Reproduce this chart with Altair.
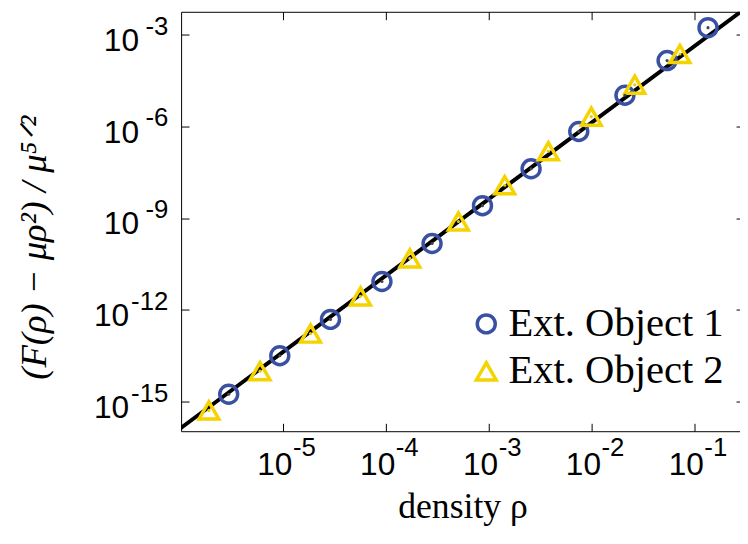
import altair as alt
import pandas as pd

# ---- data ----
series_names = ["Ext. Object 1", "Ext. Object 2"]
series_colors = ["#3a50a2", "#f5d300"]
series_shapes = ["circle", "triangle-up"]
series_sizes = [330, 400]
dot_colors = ["#3c4a40", "#e8c800"]

obj1_x = [2.96e-6, 9.29e-6, 2.89e-5, 9.15e-5, 2.81e-4, 8.69e-4, 2.58e-3, 7.50e-3, 2.11e-2, 5.42e-2, 1.355e-1]
obj1_y = [1.73e-15, 3.15e-14, 4.85e-13, 8.39e-12, 1.47e-10, 2.54e-9, 4.08e-8, 6.78e-7, 1.04e-5, 1.41e-4, 1.68e-3]

obj2_x = [1.90e-6, 5.97e-6, 1.85e-5, 5.66e-5, 1.71e-4, 5.07e-4, 1.43e-3, 3.80e-3, 9.93e-3, 2.63e-2, 7.23e-2]
obj2_y = [5.13e-16, 9.86e-15, 1.67e-13, 2.75e-12, 4.80e-11, 7.71e-10, 1.186e-8, 1.53e-7, 2.07e-6, 2.29e-5, 2.31e-4]

fit_x = [1e-6, 1.0]
fit_y = [1.32e-16, 1.32e-1]

x_ticks = [1e-5, 1e-4, 1e-3, 1e-2, 1e-1]
x_tick_exps = ["-5", "-4", "-3", "-2", "-1"]
y_ticks = [1e-15, 1e-12, 1e-9, 1e-6, 1e-3]
y_tick_exps = ["-15", "-12", "-9", "-6", "-3"]

x_domain = [1.02e-6, 0.303]
y_domain = [1.07e-16, 5.55e-3]

x_title = "density ρ"
y_title = "(F(ρ) − μρ²) / μ⁵ᐟ²"

# ---- tables ----
pts = pd.DataFrame(
    {"x": obj1_x + obj2_x,
     "y": obj1_y + obj2_y,
     "series": [series_names[0]] * len(obj1_x) + [series_names[1]] * len(obj2_x)}
)
fit = pd.DataFrame({"x": fit_x, "y": fit_y})
xt = pd.DataFrame({"v": x_ticks, "e": x_tick_exps})
yt = pd.DataFrame({"v": y_ticks, "e": y_tick_exps})

xs = alt.Scale(type="log", domain=x_domain, nice=False)
ys = alt.Scale(type="log", domain=y_domain, nice=False)

SANS = "Liberation Sans"
SERIF = "Liberation Serif"

bottom_axis = alt.Axis(
    orient="bottom", values=x_ticks, offset=-8, tickSize=8, tickColor="black",
    tickWidth=1, domain=False, grid=False, labelExpr="'10'", labelFont=SANS,
    labelFontSize=32, labelColor="black", labelAlign="right", labelOffset=9,
    labelBaseline="alphabetic", labelPadding=44, labelFlush=False, labelOverlap=False,
    title=x_title, titleFont=SERIF, titleFontSize=36, titleFontWeight="normal",
    titleColor="black", titleX=284.5, titleY=95, titleAlign="center",
    titleBaseline="alphabetic", titleAnchor="middle",
)
left_axis = alt.Axis(
    orient="left", values=y_ticks, offset=-8, tickSize=8, tickColor="black",
    tickWidth=1, domain=False, grid=False, labelExpr="'10'", labelFont=SANS,
    labelFontSize=32, labelColor="black", labelAlign="right", labelOffset=16,
    labelBaseline="alphabetic",
    labelPadding={"condition": {"test": "datum.value < 1e-10", "value": 53}, "value": 43},
    labelFlush=False, labelOverlap=False,
    title=y_title, titleFont=SERIF, titleFontSize=37, titleFontWeight="normal",
    titleFontStyle="italic",
    titleColor="black", titleX=-156, titleY=238, titleAngle=270, titleAlign="center",
    titleBaseline="middle",
)
top_axis = alt.Axis(orient="top", values=x_ticks, offset=-8, tickSize=8, tickColor="black",
                    tickWidth=1, domain=False, grid=False, labels=False, title=None)
right_axis = alt.Axis(orient="right", values=y_ticks, offset=-8, tickSize=8, tickColor="black",
                      tickWidth=1, domain=False, grid=False, labels=False, title=None)

legend = alt.Legend(
    orient="none", legendX=288, legendY=295, title=None, labelFont=SERIF,
    labelFontSize=41, labelColor="black", labelLimit=0, symbolStrokeWidth=3.5,
    symbolSize=340, rowPadding=6, padding=0, labelOffset=2, labelBaseline="middle",
)

line = alt.Chart(fit).mark_line(color="black", strokeWidth=4, clip=True).encode(
    x=alt.X("x:Q", scale=xs, axis=bottom_axis),
    y=alt.Y("y:Q", scale=ys, axis=left_axis),
)

points = alt.Chart(pts).mark_point(filled=False, strokeWidth=3.5, opacity=1).encode(
    x=alt.X("x:Q", scale=xs, axis=top_axis),
    y=alt.Y("y:Q", scale=ys, axis=right_axis),
    color=alt.Color("series:N", scale=alt.Scale(domain=series_names, range=series_colors), legend=legend),
    shape=alt.Shape("series:N", scale=alt.Scale(domain=series_names, range=series_shapes), legend=legend),
    size=alt.Size("series:N", scale=alt.Scale(domain=series_names, range=series_sizes), legend=None),
)

dot_layers = []
for name, dcol in zip(series_names, dot_colors):
    dot_layers.append(
        alt.Chart(pts)
        .transform_filter(alt.datum.series == name)
        .mark_point(filled=True, size=10, opacity=1, strokeWidth=0, color=dcol)
        .encode(
            x=alt.X("x:Q", scale=xs, axis=None),
            y=alt.Y("y:Q", scale=ys, axis=None),
        )
    )

x_exp = alt.Chart(xt).mark_text(
    align="left", baseline="alphabetic", dx=10, dy=25, font=SANS, fontSize=26, color="black"
).encode(
    x=alt.X("v:Q", scale=xs, axis=None),
    y=alt.value("height"),
    text="e:N",
)

y_exp = alt.Chart(yt).mark_text(
    align="right", baseline="alphabetic", dx=-13, dy=0, font=SANS, fontSize=26, color="black"
).encode(
    y=alt.Y("v:Q", scale=ys, axis=None),
    x=alt.value(0),
    text="e:N",
)

chart = (
    alt.layer(line, points, *dot_layers, x_exp, y_exp)
    .resolve_axis(x="independent", y="independent")
    .properties(
        width=569,
        height=424,
        padding={"left": 175, "top": 1, "right": -4, "bottom": 95},
        autosize=alt.AutoSizeParams(type="none"),
        background="white",
    )
    .configure_view(stroke="black", strokeWidth=1)
)

chart.save("out.html", embed_options={"renderer": "svg", "actions": False})
